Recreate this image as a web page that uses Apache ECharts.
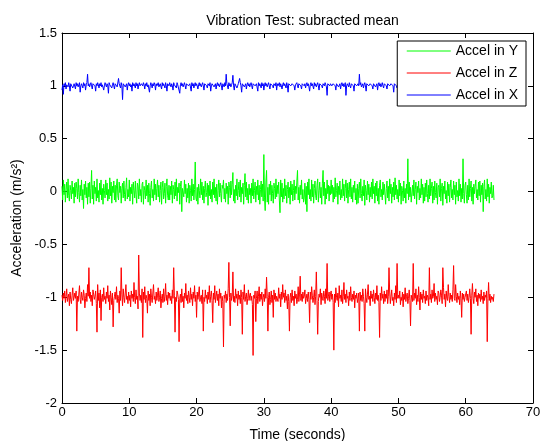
<!DOCTYPE html>
<html>
<head>
<meta charset="utf-8">
<script src="https://cdn.jsdelivr.net/npm/echarts@6/dist/echarts.min.js"></script>
<style>
html,body{margin:0;padding:0;background:#fff;}
#chart{width:544px;height:441px;}
</style>
</head>
<body>
<div id="chart"></div>
<script>
// Sampling: first sample time and step (seconds)
const t0 = 0;
const dt = 0.1;

// Accel in Y, in hundredths of m/s^2
const accelY = [
5,-8,11,-3,7,-10,2,9,-6,12,-4,-9,6,1,-7,10,-2,4,-11,8,-5,9,3,-7,12,-1,-10,6,-4,11,-8,2,-16,7,-3,10,-6,4,-12,8,
-5,9,-11,3,20,-7,6,-12,10,-2,4,-9,12,-6,1,-10,8,-3,11,-8,3,-12,7,1,-6,11,-3,8,-9,2,-7,13,-4,9,-11,5,-1,10,-8,6,
-10,6,12,-4,-8,9,-1,5,-11,3,8,-6,10,-3,-9,4,13,-7,2,-5,11,-9,4,-2,7,-12,9,1,-6,10,-3,-11,8,5,-7,12,-4,2,-10,7,
9,-12,5,1,-7,11,-4,6,-10,8,-2,-13,4,10,-6,2,-9,12,-3,7,-8,3,11,-5,6,-10,1,9,-12,4,10,-7,-2,8,-11,5,12,-4,-8,6,
-8,5,-3,10,-11,6,2,-7,9,-4,12,-9,4,-1,8,-12,5,10,-19,3,4,-5,11,-2,7,-10,3,-6,8,-11,6,1,-9,12,-4,7,-8,2,28,-6,
-9,4,-12,7,1,-6,12,-3,9,-8,5,-11,3,10,-5,-1,8,-13,6,-4,10,-7,2,-10,9,-3,12,-6,4,-9,7,-12,1,11,-5,8,-2,-10,6,3,
11,-7,3,-10,8,-2,5,-12,9,4,-6,10,-3,7,18,-9,2,-11,6,-4,12,-8,1,9,-5,11,-10,4,-2,8,-12,6,17,-5,9,-8,3,-11,7,-3,
3,-11,8,-4,12,-7,1,9,-10,5,-3,11,-8,6,-12,2,10,-5,7,-9,35,-6,-18,9,20,-10,4,-12,7,-3,10,-9,6,-2,-11,8,3,-7,12,-5,
6,-2,9,-8,-20,11,-5,8,-10,3,-7,12,-4,6,-11,2,9,-6,4,-12,10,-3,7,-9,1,11,-8,5,-2,9,20,-8,4,-11,6,-3,11,-7,2,-10,
-6,8,-12,5,-19,9,-3,12,-7,2,-9,11,-5,7,-11,3,10,-4,-8,6,12,-10,1,9,-6,4,-12,8,20,-4,9,-12,3,-7,11,-2,6,-9,5,-3,
11,-2,6,-10,4,-7,13,-5,1,8,-12,5,-3,10,-8,2,-6,12,-4,7,-9,3,11,-6,8,-11,2,9,-5,12,-7,4,-10,6,-1,10,-8,3,-12,7,
-11,3,9,-6,12,-2,-9,5,-4,11,-13,6,1,-8,10,-3,7,-10,4,-5,9,-7,12,-2,5,-11,8,-4,10,-9,3,-12,6,11,-5,2,-8,9,-3,7,
8,-12,3,10,-6,5,-9,12,-2,7,-11,4,-5,9,-8,13,-3,6,-7,2,-10,11,-4,8,-12,5,1,-9,10,-6,3,-11,7,-2,31,-8,9,-5,4,-10,
-10,6,-4,11,-7,2,9,-12,5,-1,10,-8,3,-6,12,-3,7,-11,4,-9,8,-5,11,-2,-10,6,-7,12,-4,3,9,-11,5,-8,10,-1,-6,8,-12,4,
6,-5,12,-9,3,8,-13,5,-2,10,-7,1,-11,9,-4,7,-10,4,11,-6,2,-8,10,-3,6,-12,9,-5,1,-9,12,-4,7,-10,3,-7,31,-2,-11,6,
9,-3,-11,6,-8,12,-5,3,10,-9,4,-12,7,-2,5,11,-6,2,-8,9,-4,10,-10,6,-3,8,-19,5,11,-7,2,-9,12,-5,7,-11,4,-2,9,-6,
-4,6,-8
];

// Accel in Z, in hundredths of m/s^2
const accelZ = [
-98,-103,-96,-101,-94,-105,-99,-92,-104,-100,-97,-108,-95,-102,-106,-98,-91,-103,-100,-96,-101,-94,-132,-99,-104,-97,-89,-102,-106,-95,-100,-103,-93,-98,-110,-101,-96,-104,-88,-99,
-72,-101,-95,-104,-98,-108,-93,-97,-102,-99,-94,-106,-133,-88,-103,-96,-110,-93,-122,-100,-97,-104,-91,-102,-99,-106,-95,-101,-89,-104,-98,-112,-94,-100,-107,-96,-128,-103,-99,-95,
-102,-90,-105,-98,-101,-115,-94,-103,-72,-97,-108,-92,-100,-105,-96,-88,-102,-99,-106,-95,-103,-98,-109,-94,-101,-97,-104,-86,-100,-106,-93,-102,-99,-111,-60,-96,-103,-98,-105,-92,
-138,-95,-102,-90,-105,-98,-101,-115,-94,-103,-97,-108,-92,-100,-105,-96,-88,-102,-99,-106,-95,-103,-98,-91,-104,-100,-94,-110,-101,-97,-105,-92,-104,-99,-87,-103,-98,-107,-95,-101,
-96,-103,-99,-106,-93,-101,-72,-98,-133,-100,-104,-94,-97,-102,-142,-101,-97,-105,-92,-104,-99,-110,-96,-101,-87,-103,-98,-106,-94,-100,-105,-91,-102,-97,-108,-95,-101,-89,-104,-98,
-119,-95,-102,-97,-90,-104,-100,-98,-106,-93,-132,-100,-104,-93,-101,-98,-106,-95,-102,-89,-105,-99,-94,-103,-124,-96,-102,-89,-105,-99,-94,-103,-97,-108,-92,-101,-96,-110,-99,-104,
-147,-98,-101,-94,-105,-97,-103,-92,-67,-100,-127,-96,-103,-99,-76,-104,-99,-105,-92,-101,-97,-108,-94,-102,-98,-106,-93,-100,-135,-95,-102,-88,-104,-99,-96,-107,-101,-93,-103,-98,
-96,-103,-99,-107,-155,-98,-101,-94,-123,-101,-94,-106,-99,-90,-104,-97,-102,-95,-108,-100,-97,-104,-92,-101,-81,-99,-132,-100,-95,-107,-102,-94,-105,-98,-119,-93,-102,-96,-104,-99,
-98,-104,-91,-101,-97,-109,-95,-102,-88,-100,-96,-105,-93,-103,-99,-111,-97,-104,-132,-100,-96,-105,-93,-103,-99,-108,-94,-101,-97,-106,-102,-90,-104,-97,-80,-103,-97,-104,-95,-101,
-99,-93,-106,-101,-97,-104,-95,-102,-124,-95,-102,-90,-98,-105,-100,-93,-107,-99,-76,-103,-135,-104,-97,-100,-92,-107,-96,-101,-103,-94,-99,-106,-92,-101,-68,-103,-99,-95,-104,-97,
-94,-102,-97,-105,-150,-97,-105,-91,-100,-103,-96,-109,-89,-101,-98,-104,-93,-106,-99,-86,-102,-97,-105,-93,-101,-99,-108,-95,-103,-90,-100,-104,-97,-102,-94,-110,-98,-101,-96,-105,
-101,-96,-132,-95,-103,-98,-104,-92,-99,-106,-132,-92,-100,-105,-97,-88,-102,-99,-108,-94,-101,-97,-104,-93,-100,-106,-96,-102,-89,-103,-98,-105,-138,-96,-103,-90,-101,-97,-106,-94,
-104,-97,-101,-93,-106,-99,-72,-95,-106,-99,-93,-103,-100,-108,-96,-102,-89,-105,-68,-101,-98,-101,-94,-107,-100,-103,-95,-109,-97,-102,-91,-104,-99,-96,-106,-101,-93,-103,-127,-98,
-99,-104,-68,-103,-96,-101,-92,-107,-98,-104,-90,-100,-112,-95,-102,-97,-105,-93,-101,-99,-106,-94,-103,-98,-100,-108,-72,-102,-97,-105,-93,-101,-99,-87,-104,-96,-102,-99,-107,-94,
-96,-104,-100,-93,-98,-106,-72,-91,-102,-97,-109,-94,-101,-103,-88,-99,-105,-96,-102,-98,-104,-93,-70,-101,-103,-88,-99,-105,-96,-102,-99,-107,-94,-101,-119,-96,-102,-97,-104,-100,
-99,-94,-103,-97,-105,-100,-92,-101,-135,-98,-87,-101,-106,-95,-100,-92,-104,-98,-108,-96,-101,-97,-104,-93,-102,-99,-106,-95,-103,-98,-100,-94,-142,-101,-86,-103,-97,-105,-99,-102,
-100,-104,-97
];

// Accel in X, in hundredths of m/s^2
const accelX = [
96,101,92,102,100,103,97,101,102,99,103,100,95,102,101,103,98,100,102,101,97,103,100,102,99,101,103,94,100,102,101,98,103,100,102,96,101,103,111,100,
102,99,101,103,100,97,102,101,103,100,95,102,100,103,101,98,102,100,103,99,101,102,96,100,103,101,99,102,100,93,103,101,100,102,98,101,103,100,97,102,
101,103,99,100,107,102,101,98,103,100,87,102,101,103,99,100,102,96,101,103,100,102,99,101,95,103,100,102,101,98,103,100,102,97,101,103,100,99,102,101,
100,103,101,97,102,100,103,99,101,102,94,100,103,101,98,102,100,103,101,96,102,100,101,103,99,100,102,101,97,103,100,102,101,98,103,100,95,102,101,100,
103,101,99,102,100,96,103,101,102,100,98,103,101,100,102,93,101,103,100,102,99,101,103,100,97,102,101,103,100,99,102,101,95,103,100,102,98,101,103,100,
102,100,97,101,103,100,102,99,101,103,100,96,102,101,103,100,98,102,101,100,103,95,100,102,101,103,99,100,102,97,101,103,100,102,99,101,103,100,96,102,
101,99,103,100,111,102,101,97,103,100,102,99,101,103,110,100,96,102,101,103,98,100,102,101,107,103,100,94,102,101,103,99,100,102,97,101,103,100,102,99,
101,103,100,97,102,101,103,100,99,102,101,95,103,100,102,101,98,103,100,102,96,101,103,100,102,99,101,103,100,97,102,101,103,100,98,102,101,100,103,96,
102,100,101,103,99,102,100,97,101,103,100,102,101,98,103,100,94,102,101,103,100,99,102,101,103,100,96,101,102,103,100,98,102,101,103,100,97,102,101,103,
100,102,98,101,103,100,102,99,95,101,103,100,102,101,97,103,100,102,99,101,103,100,96,102,101,103,100,98,102,101,100,103,101,99,91,102,101,103,100,102,
103,100,99,102,101,103,100,96,102,101,103,99,100,102,97,101,103,100,102,99,101,103,91,100,102,101,99,103,100,98,102,101,103,100,95,102,101,103,100,99,
102,100,111,101,103,99,100,102,98,101,103,100,95,102,101,103,100,99,102,101,103,100,97,102,101,103,99,100,102,96,101,103,100,102,99,101,103,100,98,102,
103,101,100,97,102,101,103,100,99,102,101,103,100,94,102,101,103,100,98,102,101,100,103,99,102,101,96,103,100,102,101,99,103,100,102,97,101,103,100,102,
100,103,99,101,102,100,95,103,101,100,102,99,103,101,100,102,97,101,103,100,102,101,99,103,100,102,96,101,103,100,102,98,101,103,100,102,99,101,103,100,
102,96,100,103,101,99,102,100,103,101,98,102,100,94,103,101,102,100,99,103,101,102,97,100,103,101,102,99,100,103,101,96,102,100,103,101,98,102,100,103,
99,101,102,100,103,95,101,102,100,103,99,101,102,97,100,103,101,102,100,98,103,101,102,100,96,103,101,102,99,100,103,101,97,102,100,103,101,99,102,101,
100,101,103
];

const seriesNames = ['Accel in Y', 'Accel in Z', 'Accel in X'];
const seriesColors = ['#00ff00', '#ff0000', '#0000ff'];
const seriesValues = [accelY, accelZ, accelX];

const xTicks = {min: 0, max: 70, interval: 10};
const yTicks = {min: -2, max: 1.5, interval: 0.5};

function toPairs(arr) {
  return arr.map(function (v, i) { return [t0 + i * dt, v / 100]; });
}

const FONT = "'Liberation Sans', Arial, Helvetica, sans-serif";
const FS = 13;
const FSL = 14;
const axisCommon = {
  axisLine: {show: true, onZero: false, lineStyle: {color: '#000', width: 1}},
  axisTick: {show: true, inside: true, length: 5, lineStyle: {color: '#000'}},
  splitLine: {show: false}
};

const chart = echarts.init(document.getElementById('chart'), null, {renderer: 'canvas'});
chart.setOption({
  animation: false,
  backgroundColor: '#fff',
  textStyle: {fontFamily: FONT},
  title: {
    text: 'Vibration Test: subracted mean',
    left: 297.5, textAlign: 'center', top: 9,
    textStyle: {fontFamily: FONT, fontSize: FSL, fontWeight: 'normal', color: '#000'}
  },
  legend: {
    data: seriesNames,
    orient: 'vertical',
    right: 18, top: 41,
    itemWidth: 44, itemHeight: 14, itemGap: 8,
    padding: [3, 8, 4, 9],
    backgroundColor: '#fff',
    borderColor: '#000', borderWidth: 1, borderRadius: 0,
    itemStyle: {opacity: 0},
    lineStyle: {width: 1, opacity: 1},
    z: 10,
    textStyle: {fontFamily: FONT, fontSize: FSL, color: '#000'}
  },
  grid: {left: 62, right: 11, top: 33, bottom: 38, containLabel: false, outerBoundsMode: 'none'},
  xAxis: [
    Object.assign({
      type: 'value', position: 'bottom',
      min: xTicks.min, max: xTicks.max, interval: xTicks.interval,
      name: 'Time (seconds)', nameLocation: 'middle', nameGap: 25,
      nameTextStyle: {fontFamily: FONT, fontSize: FSL, color: '#000'},
      axisLabel: {color: '#000', fontSize: FS, fontFamily: FONT, margin: 3}
    }, axisCommon),
    Object.assign({
      type: 'value', position: 'top',
      min: xTicks.min, max: xTicks.max, interval: xTicks.interval,
      axisLabel: {show: false}
    }, axisCommon)
  ],
  yAxis: [
    Object.assign({
      type: 'value', position: 'left',
      min: yTicks.min, max: yTicks.max, interval: yTicks.interval,
      name: 'Acceleration (m/s²)', nameLocation: 'middle', nameGap: 33,
      nameTextStyle: {fontFamily: FONT, fontSize: FSL, color: '#000'},
      axisLabel: {color: '#000', fontSize: FS, fontFamily: FONT, margin: 5}
    }, axisCommon),
    Object.assign({
      type: 'value', position: 'right',
      min: yTicks.min, max: yTicks.max, interval: yTicks.interval,
      axisLabel: {show: false}
    }, axisCommon)
  ],
  series: seriesNames.map(function (name, k) {
    return {
      name: name, type: 'line',
      xAxisIndex: 0, yAxisIndex: 0,
      data: toPairs(seriesValues[k]),
      symbol: 'none', showSymbol: false,
      color: seriesColors[k],
      lineStyle: {color: seriesColors[k], width: 1},
      emphasis: {disabled: true},
      z: 2
    };
  })
});
</script>
</body>
</html>
